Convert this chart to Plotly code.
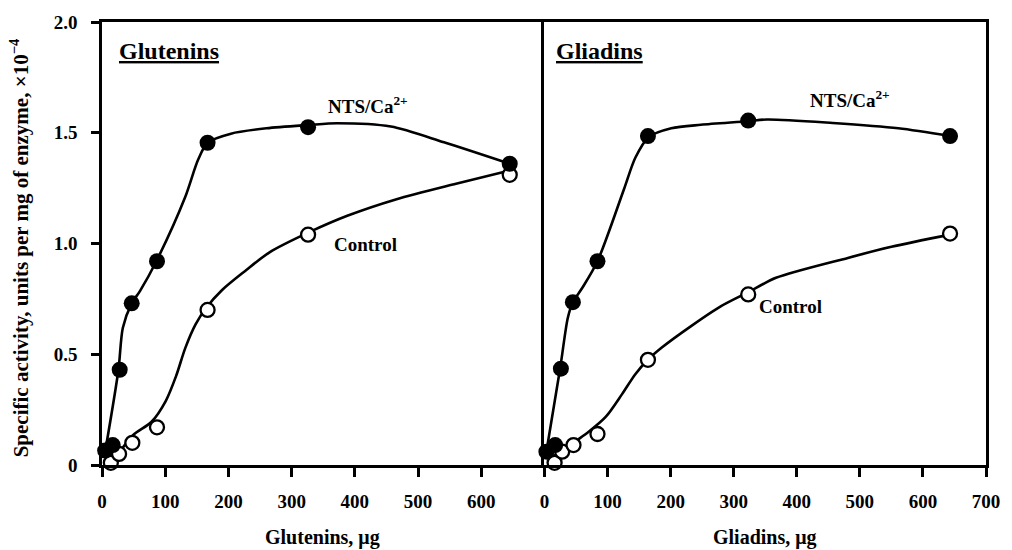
import plotly.graph_objects as go

# ---------------- data ----------------
# Glutenins panel: measured points
glu_nts_x = [5, 17, 28, 47, 87, 167, 326, 645]
glu_nts_y = [0.065, 0.09, 0.43, 0.73, 0.92, 1.455, 1.525, 1.36]
glu_ctl_x = [14, 27, 48, 87, 167, 326, 645]
glu_ctl_y = [0.01, 0.05, 0.10, 0.17, 0.70, 1.04, 1.31]

# Glutenins panel: hand-drawn fitted curves (knots)
glu_nts_curve_x = [5, 26, 33, 47, 60, 86, 131, 152, 167, 204, 260, 327, 372, 457, 541, 645]
glu_nts_curve_y = [0.06, 0.43, 0.62, 0.73, 0.785, 0.92, 1.205, 1.378, 1.455, 1.496, 1.52, 1.535, 1.543, 1.528, 1.457, 1.36]
glu_ctl_curve_x = [8, 23, 49, 78, 101, 117, 132, 148, 165, 190, 226, 265, 327, 388, 466, 560, 645]
glu_ctl_curve_y = [0.02, 0.045, 0.135, 0.194, 0.29, 0.40, 0.53, 0.635, 0.71, 0.79, 0.875, 0.96, 1.05, 1.125, 1.20, 1.27, 1.33]

# Gliadins panel: measured points
gli_nts_x = [3, 17, 26, 45, 84, 164, 323, 643]
gli_nts_y = [0.06, 0.09, 0.435, 0.735, 0.92, 1.485, 1.555, 1.485]
gli_ctl_x = [16, 28, 46, 84, 164, 323, 643]
gli_ctl_y = [0.01, 0.06, 0.09, 0.14, 0.475, 0.77, 1.045]

# Gliadins panel: fitted curves
gli_nts_curve_x = [3, 25, 37, 45, 60, 84, 126, 144, 165, 201, 248, 323, 353, 457, 561, 643]
gli_nts_curve_y = [0.06, 0.44, 0.665, 0.735, 0.80, 0.92, 1.245, 1.387, 1.48, 1.52, 1.536, 1.552, 1.56, 1.544, 1.52, 1.485]
gli_ctl_curve_x = [5, 28, 46, 70, 97, 123, 144, 164, 186, 233, 280, 323, 367, 481, 550, 643]
gli_ctl_curve_y = [0.03, 0.06, 0.10, 0.15, 0.217, 0.32, 0.41, 0.475, 0.53, 0.628, 0.717, 0.78, 0.845, 0.935, 0.985, 1.04]

x_ticks_left = [0, 100, 200, 300, 400, 500, 600]
x_ticks_right = [0, 100, 200, 300, 400, 500, 600, 700]
y_ticks = [0, 0.5, 1.0, 1.5, 2.0]
y_tick_text = ["0", "0.5", "1.0", "1.5", "2.0"]

FONT = "Liberation Serif"
BLACK = "#000000"

fig = go.Figure()


def add_panel(xa, ya, cx1, cy1, cx2, cy2, px1, py1, px2, py2):
    for cx, cy in ((cx1, cy1), (cx2, cy2)):
        fig.add_trace(go.Scatter(x=cx, y=cy, mode="lines", xaxis=xa, yaxis=ya,
                                 line=dict(color=BLACK, width=2.6, shape="spline", smoothing=0.8),
                                 showlegend=False, hoverinfo="skip"))
    fig.add_trace(go.Scatter(x=px2, y=py2, mode="markers", xaxis=xa, yaxis=ya, cliponaxis=False,
                             marker=dict(symbol="circle", size=14, color="white",
                                         line=dict(color=BLACK, width=2.3)),
                             showlegend=False))
    fig.add_trace(go.Scatter(x=px1, y=py1, mode="markers", xaxis=xa, yaxis=ya, cliponaxis=False,
                             marker=dict(symbol="circle", size=16, color=BLACK,
                                         line=dict(color=BLACK, width=0)),
                             showlegend=False))


add_panel("x", "y", glu_nts_curve_x, glu_nts_curve_y, glu_ctl_curve_x, glu_ctl_curve_y,
          glu_nts_x, glu_nts_y, glu_ctl_x, glu_ctl_y)
add_panel("x2", "y2", gli_nts_curve_x, gli_nts_curve_y, gli_ctl_curve_x, gli_ctl_curve_y,
          gli_nts_x, gli_nts_y, gli_ctl_x, gli_ctl_y)

tickfont = dict(family=FONT, size=19, color=BLACK, weight="bold")
line_common = dict(showgrid=False, zeroline=False, showline=True, linecolor=BLACK,
                   linewidth=2.6, tickcolor=BLACK, tickwidth=2.6, tickfont=tickfont)

L, R, T, B = 102, 17, 19, 85
W, H = 1012, 550
pw = W - L - R
ph = H - T - B
split = (549 - L) / pw

fig.update_layout(
    width=W, height=H,
    margin=dict(l=L, r=R, t=T, b=B),
    plot_bgcolor="white", paper_bgcolor="white",
    xaxis=dict(domain=[0, split], range=[0, 700], tickvals=x_ticks_left, mirror=True,
               ticks="outside", ticklen=9, ticklabelstandoff=8, **line_common),
    xaxis2=dict(domain=[split, 1], range=[0, 700], tickvals=x_ticks_right, anchor="y2",
                mirror=True, ticks="outside", ticklen=9, ticklabelstandoff=8, **line_common),
    yaxis=dict(domain=[0, 1], range=[0, 2.0], tickvals=y_ticks, ticktext=y_tick_text,
               mirror=False, ticks="outside", ticklen=8, ticklabelstandoff=10, **line_common),
    yaxis2=dict(domain=[0, 1], range=[0, 2.0], anchor="x2", matches="y",
                showticklabels=False, mirror=True, ticks="", **line_common),
)


def px_x(p):
    return (p - L) / pw


def px_y(p):
    return (H - B - p) / ph


def ann(text, xp, yp, size, xanchor="center", angle=0):
    fig.add_annotation(text=text, xref="paper", yref="paper", x=px_x(xp), y=px_y(yp),
                       xanchor=xanchor, yanchor="middle", showarrow=False, textangle=angle,
                       font=dict(family=FONT, size=size, color=BLACK, weight="bold"))


ann("<u>Glutenins</u>", 117, 48, 24, xanchor="left")
ann("<u>Gliadins</u>", 559, 48, 24, xanchor="left")
ann("NTS/Ca<sup>2+</sup>", 371, 103, 19)
ann("NTS/Ca<sup>2+</sup>", 858, 97, 19)
ann("Control", 368, 243, 19)
ann("Control", 798, 305, 19)
ann("Glutenins, \u03bcg", 325, 538, 20)
ann("Gliadins, \u03bcg", 772, 538, 20)
ann("Specific activity, units per mg of enzyme, \u00d710<sup>\u22124</sup>", 19, 246, 21, angle=-90)

fig.write_html("out.html", config={"displayModeBar": False},
               post_script="document.body.style.margin='0';document.body.style.overflow='hidden';")
